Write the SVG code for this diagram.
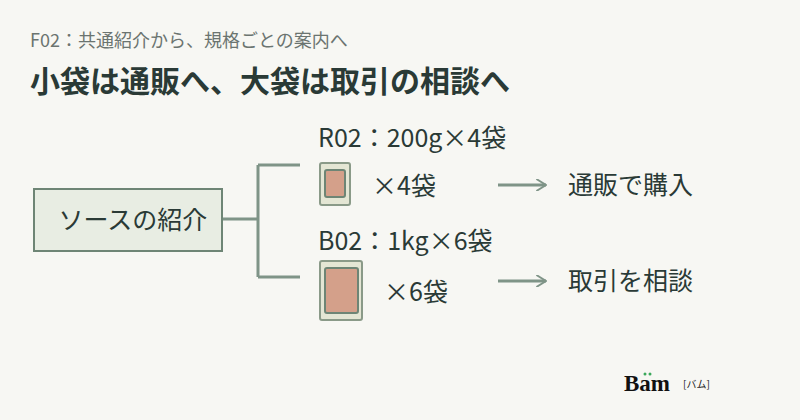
<svg xmlns="http://www.w3.org/2000/svg" width="800" height="420" viewBox="0 0 800 420">
<style>
text{font-family:"Noto Sans CJK JP","Noto Sans",sans-serif;fill:#2a3a36}
.l{font-size:25px}
.c{stroke:#7f9487;stroke-width:3;fill:none}
.bo{fill:#e4e6d4;stroke:#8a9a88;stroke-width:2}
.bi{fill:#d4a08a;stroke:#6e8575;stroke-width:2}
</style>
<defs><marker id="a" viewBox="0 0 10 10" refX="9" refY="5" markerWidth="12" markerHeight="12" markerUnits="userSpaceOnUse" orient="auto"><path d="M1 0L9 5L1 10" fill="none" stroke="#7f9487" stroke-width="1.6"/></marker></defs>
<rect width="800" height="420" fill="#f7f7f3"/>
<text x="30" y="47" font-size="18" style="fill:#6b7470">F02：共通紹介から、規格ごとの案内へ</text>
<text x="30" y="92" font-size="30" font-weight="bold">小袋は通販へ、大袋は取引の相談へ</text>
<g id="connectors">
<path class="c" d="M222 219H258M258 165V277M258 165H300M258 277H300"/>
<path class="c" d="M498 185H546" marker-end="url(#a)" stroke-width="2.5"/>
<path class="c" d="M498 281H546" marker-end="url(#a)" stroke-width="2.5"/>
</g>
<g id="source"><rect x="34" y="189" width="188" height="62" fill="#e8ede3" stroke="#6e8575" stroke-width="2"/><text x="133" y="229" class="l" text-anchor="middle">ソースの紹介</text></g>
<g id="r02"><text x="318" y="147" class="l">R02：200g×4袋</text>
<rect class="bo" x="320" y="163" width="30" height="42" rx="2"/><rect class="bi" x="325" y="170" width="20" height="27" rx="2"/>
<text x="372" y="195" class="l">×4袋</text></g>
<g id="b02"><text x="318" y="250" class="l">B02：1kg×6袋</text>
<rect class="bo" x="320" y="261" width="42" height="59" rx="2"/><rect class="bi" x="325" y="268" width="33" height="45" rx="2"/>
<text x="384" y="301" class="l">×6袋</text></g>
<g id="buy"><text x="568" y="194" class="l">通販で購入</text></g>
<g id="deal"><text x="568" y="290" class="l">取引を相談</text></g>
<g id="logo"><text x="624" y="391" font-size="23" font-weight="bold" style="fill:#111;font-family:'Liberation Serif',serif">Bam</text>
<circle cx="645" cy="374" r="1.5" fill="#3aa85a"/><circle cx="650" cy="374" r="1.5" fill="#3aa85a"/>
<text x="683" y="388" font-size="10" style="fill:#222">[バム]</text></g>
</svg>
